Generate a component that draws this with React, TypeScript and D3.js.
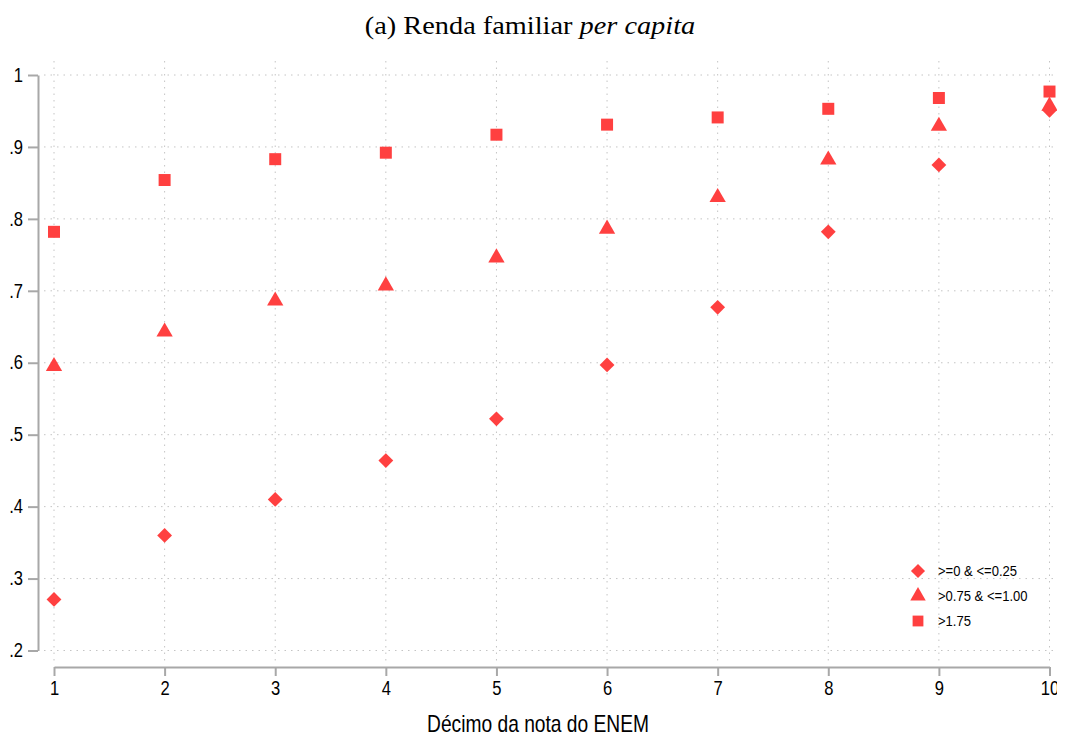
import React, { useEffect, useRef } from 'react';
import * as d3 from 'd3';

const deciles = [1, 2, 3, 4, 5, 6, 7, 8, 9, 10];
const yTicks = [0.2, 0.3, 0.4, 0.5, 0.6, 0.7, 0.8, 0.9, 1];

const seriesNames = ['>=0 & <=0.25', '>0.75 & <=1.00', '>1.75'];
const lowIncome = [0.271, 0.36, 0.41, 0.464, 0.522, 0.597, 0.677, 0.782, 0.875, 0.951];
const midIncome = [0.595, 0.643, 0.686, 0.707, 0.746, 0.786, 0.83, 0.882, 0.929, 0.957];
const highIncome = [0.782, 0.854, 0.883, 0.892, 0.917, 0.931, 0.941, 0.953, 0.968, 0.977];

const WIDTH = 1065;
const HEIGHT = 740;
const RED = '#ff4040';
const AXIS = '#a8a8a8';
const GRID = '#c4c4c4';
const SANS = '"Liberation Sans", Arial, sans-serif';
const SERIF = '"Liberation Serif", "Times New Roman", serif';

type Shape = 'diamond' | 'triangle' | 'square';

function markerPath(shape: Shape): string {
  if (shape === 'diamond') return d3.symbol(d3.symbolDiamond2, 140)() || '';
  if (shape === 'triangle') return d3.symbol(d3.symbolTriangle, 115)() || '';
  return 'M-6,-6H6V6H-6Z';
}

const App: React.FC = () => {
  const ref = useRef<SVGSVGElement>(null);

  useEffect(() => {
    if (!ref.current) return;
    const svg = d3.select(ref.current);
    svg.selectAll('*').remove();

    const x = d3.scaleLinear().domain([1, 10]).range([54, 1049.5]);
    const y = d3.scaleLinear().domain([0.2, 1]).range([650.5, 75]);

    // title (the source is stretched horizontally)
    const title = svg
      .append('text')
      .attr('transform', 'translate(530,34) scale(1.09,1)')
      .attr('text-anchor', 'middle')
      .style('font-family', SERIF)
      .style('font-size', '26px')
      .style('fill', '#000');
    title.append('tspan').text('(a) Renda familiar ');
    title.append('tspan').style('font-style', 'italic').text('per capita');

    // grid
    const grid = svg.append('g');
    grid
      .selectAll('line.h')
      .data(yTicks)
      .enter()
      .append('line')
      .attr('x1', 44)
      .attr('x2', 1062)
      .attr('y1', d => y(d))
      .attr('y2', d => y(d))
      .attr('stroke', GRID)
      .attr('stroke-width', 1)
      .attr('stroke-dasharray', '1.5,5');
    grid
      .selectAll('line.v')
      .data(deciles)
      .enter()
      .append('line')
      .attr('x1', d => x(d))
      .attr('x2', d => x(d))
      .attr('y1', 61)
      .attr('y2', 662)
      .attr('stroke', GRID)
      .attr('stroke-width', 1)
      .attr('stroke-dasharray', '1.5,5');

    // y axis
    const yAxis = svg
      .append('g')
      .attr('transform', 'translate(38,0)')
      .call(
        d3
          .axisLeft(y)
          .tickValues(yTicks)
          .tickSize(10)
          .tickSizeOuter(0)
          .tickPadding(0)
          .tickFormat(d => {
            const v = +d;
            return v === 1 ? '1' : d3.format('.1f')(v).replace(/^0/, '');
          }),
      );
    yAxis.select('.domain').attr('stroke', AXIS).attr('stroke-width', 2);
    yAxis.selectAll('.tick line').attr('stroke', AXIS).attr('stroke-width', 2);
    yAxis
      .selectAll('.tick text')
      .attr('x', null)
      .attr('transform', 'translate(-15,0) scale(0.85,1)')
      .style('font-family', SANS)
      .style('font-size', '19.5px')
      .style('fill', '#000');

    // x axis
    const xAxis = svg
      .append('g')
      .attr('transform', 'translate(0,667)')
      .call(d3.axisBottom(x).tickValues(deciles).tickSize(9).tickSizeOuter(0).tickPadding(5).tickFormat(d3.format('d')));
    xAxis.select('.domain').attr('stroke', AXIS).attr('stroke-width', 2);
    xAxis.selectAll('.tick line').attr('stroke', AXIS).attr('stroke-width', 2);
    xAxis
      .selectAll('.tick text')
      .attr('transform', 'scale(0.85,1)')
      .style('font-family', SANS)
      .style('font-size', '19.5px')
      .style('fill', '#000');

    svg
      .append('text')
      .attr('transform', 'translate(538,732) scale(0.8,1)')
      .attr('text-anchor', 'middle')
      .style('font-family', SANS)
      .style('font-size', '24px')
      .style('fill', '#000')
      .text('Décimo da nota do ENEM');

    // points
    const series: { values: number[]; shape: Shape }[] = [
      { values: highIncome, shape: 'square' },
      { values: midIncome, shape: 'triangle' },
      { values: lowIncome, shape: 'diamond' },
    ];
    series.forEach(s => {
      svg
        .append('g')
        .selectAll('path')
        .data(s.values)
        .enter()
        .append('path')
        .attr('d', markerPath(s.shape))
        .attr('transform', (d, i) => `translate(${x(deciles[i])},${y(d)})`)
        .attr('fill', RED);
    });

    // legend
    const shapes: Shape[] = ['diamond', 'triangle', 'square'];
    const legend = svg.append('g').attr('transform', 'translate(918,571)');
    seriesNames.forEach((name, i) => {
      const row = legend.append('g').attr('transform', `translate(0,${i * 25})`);
      row
        .append('path')
        .attr('d', markerPath(shapes[i]))
        .attr('transform', shapes[i] === 'square' ? 'scale(0.9)' : 'scale(0.95)')
        .attr('fill', RED);
      row
        .append('text')
        .attr('transform', 'translate(20,5) scale(0.9,1)')
        .style('font-family', SANS)
        .style('font-size', '14.5px')
        .style('fill', '#000')
        .text(name);
    });
  }, []);

  return <svg ref={ref} width={WIDTH} height={HEIGHT} style={{ display: 'block', margin: '-8px' }} />;
};

export default App;
